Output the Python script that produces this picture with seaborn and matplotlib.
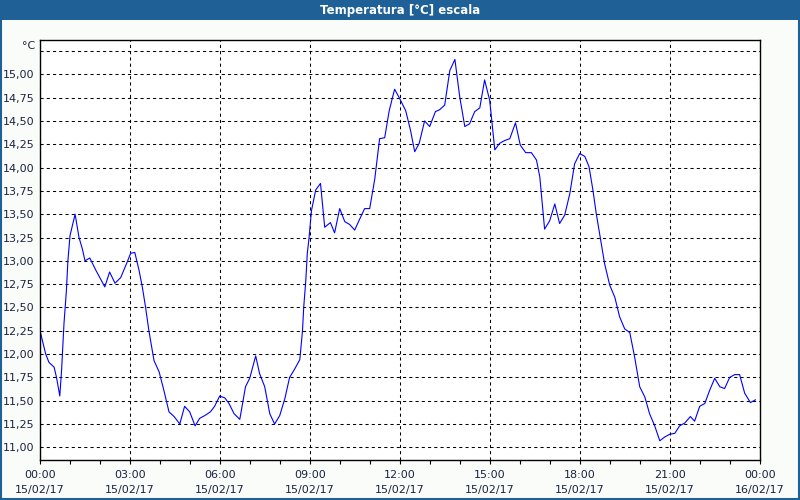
import numpy as np
import pandas as pd
import seaborn as sns
import matplotlib
matplotlib.use('Agg')
import matplotlib.pyplot as plt
from matplotlib.patches import Rectangle
import matplotlib.transforms as mtransforms

# horas desde 15/02/17 00:00 y temperatura leída
horas = [0.00, 0.19, 0.30, 0.47, 0.55, 0.66, 0.72, 0.80, 0.88, 0.93, 1.00, 1.17, 1.30, 1.41, 1.50,
         1.66, 1.86, 2.16, 2.32, 2.50, 2.69, 2.91, 3.02, 3.16, 3.30, 3.41, 3.52, 3.63, 3.80, 3.97,
         4.13, 4.30, 4.47, 4.66, 4.82, 4.99, 5.17, 5.32, 5.49, 5.68, 5.82, 5.99, 6.16, 6.30, 6.47,
         6.66, 6.77, 6.85, 6.99, 7.19, 7.32, 7.49, 7.66, 7.82, 7.99, 8.16, 8.32, 8.49, 8.66, 8.75,
         8.79, 8.86, 8.91, 8.96, 9.05, 9.19, 9.35, 9.49, 9.68, 9.82, 9.99, 10.16, 10.32, 10.49, 10.66,
         10.82, 10.99, 11.16, 11.32, 11.49, 11.64, 11.82, 11.99, 12.19, 12.35, 12.49, 12.64, 12.82, 12.99, 13.18,
         13.32, 13.49, 13.66, 13.83, 13.99, 14.16, 14.32, 14.49, 14.66, 14.82, 14.99, 15.16, 15.32, 15.49, 15.66,
         15.85, 16.01, 16.19, 16.38, 16.55, 16.66, 16.82, 16.99, 17.16, 17.32, 17.49, 17.66, 17.82, 17.99, 18.16,
         18.30, 18.43, 18.54, 18.68, 18.82, 18.99, 19.16, 19.32, 19.49, 19.66, 19.82, 19.99, 20.16, 20.32, 20.49,
         20.66, 20.82, 20.99, 21.16, 21.32, 21.49, 21.68, 21.82, 21.99, 22.16, 22.32, 22.49, 22.66, 22.82, 22.99,
         23.16, 23.32, 23.49, 23.68, 23.85]
temperatura = [12.25, 12.00, 11.91, 11.86, 11.75, 11.55, 11.83, 12.33, 12.68, 13.00, 13.27, 13.50, 13.25, 13.13, 13.00,
               13.03, 12.90, 12.72, 12.88, 12.76, 12.82, 12.99, 13.08, 13.09, 12.90, 12.72, 12.50, 12.25, 11.93, 11.81,
               11.61, 11.38, 11.33, 11.25, 11.44, 11.38, 11.23, 11.31, 11.34, 11.38, 11.44, 11.55, 11.53, 11.47, 11.36,
               11.30, 11.50, 11.65, 11.74, 11.98, 11.79, 11.65, 11.36, 11.25, 11.34, 11.52, 11.75, 11.84, 11.94, 12.25,
               12.50, 12.79, 13.08, 13.22, 13.54, 13.76, 13.83, 13.36, 13.41, 13.30, 13.56, 13.42, 13.39, 13.33, 13.45,
               13.56, 13.56, 13.88, 14.31, 14.32, 14.61, 14.84, 14.74, 14.61, 14.40, 14.17, 14.26, 14.50, 14.44, 14.60,
               14.62, 14.67, 15.04, 15.16, 14.76, 14.44, 14.47, 14.60, 14.64, 14.94, 14.72, 14.19, 14.26, 14.29, 14.31,
               14.48, 14.24, 14.16, 14.16, 14.08, 13.90, 13.34, 13.43, 13.61, 13.40, 13.49, 13.72, 14.04, 14.15, 14.12,
               14.01, 13.76, 13.51, 13.24, 12.97, 12.74, 12.61, 12.40, 12.27, 12.23, 11.97, 11.65, 11.54, 11.36, 11.23,
               11.07, 11.11, 11.14, 11.15, 11.23, 11.26, 11.33, 11.28, 11.44, 11.47, 11.61, 11.74, 11.65, 11.63, 11.75,
               11.78, 11.78, 11.58, 11.48, 11.51]

x_ticks = [0, 3, 6, 9, 12, 15, 18, 21, 24]
x_labels = ['00:00\n15/02/17', '03:00\n15/02/17', '06:00\n15/02/17', '09:00\n15/02/17',
            '12:00\n15/02/17', '15:00\n15/02/17', '18:00\n15/02/17', '21:00\n15/02/17',
            '00:00\n16/02/17']
y_ticks = [11.00, 11.25, 11.50, 11.75, 12.00, 12.25, 12.50, 12.75, 13.00,
           13.25, 13.50, 13.75, 14.00, 14.25, 14.50, 14.75, 15.00]

df = pd.DataFrame({'hora': horas, 'temp': temperatura})

sns.set_theme(style='white')
plt.rcParams['font.family'] = ['DejaVu Sans']

azul = '#1f6096'
texto = '#1b2440'

fig = plt.figure(figsize=(8, 5), dpi=100)
fig.patch.set_facecolor('#fafcfa')

# barra de título y borde de la ventana
fig.patches.append(Rectangle((0, 1 - 20 / 500), 1, 20 / 500, transform=fig.transFigure,
                             facecolor=azul, edgecolor='none', zorder=0))
fig.patches.append(Rectangle((0.001, 0.002), 0.998, 0.996, transform=fig.transFigure,
                             facecolor='none', edgecolor=azul, linewidth=1.5, zorder=1))
fig.text(0.5, 1 - 10.5 / 500, 'Temperatura [°C] escala', color='white', fontsize=8.5,
         fontweight='bold', ha='center', va='center')

ax = fig.add_axes([40 / 800, 40 / 500, 720 / 800, 420 / 500])
ax.set_facecolor('white')

sns.lineplot(data=df, x='hora', y='temp', ax=ax, color='#0000ff', linewidth=0.8)

ax.set_xlim(0, 24)
ax.set_ylim(10.864, 15.368)

ax.set_xticks(x_ticks)
ax.set_xticklabels(x_labels, fontsize=8, color=texto, linespacing=1.65)
ax.set_xticks(range(0, 25), minor=True)
ax.set_yticks(y_ticks + [15.25])
ax.set_yticklabels([f'{v:.2f}'.replace('.', ',') for v in y_ticks] + [''], fontsize=8, color=texto)

ax.tick_params(axis='x', which='both', direction='out', length=3, width=0.8, color='black',
               bottom=True, pad=4)
ax.tick_params(axis='y', length=0, pad=4)

ax.grid(True, which='major', color='black', linestyle=(0, (3, 3)), linewidth=0.75)
for s in ax.spines.values():
    s.set_color('black')
    s.set_linewidth(1)

ax.set_xlabel('')
ax.set_ylabel('')

trans = mtransforms.blended_transform_factory(ax.transAxes, ax.transData)
ax.text(-0.006, 15.25, '°C', transform=trans, ha='right', va='bottom', fontsize=8, color=texto)

fig.savefig('out.png', dpi=100, facecolor=fig.get_facecolor())
